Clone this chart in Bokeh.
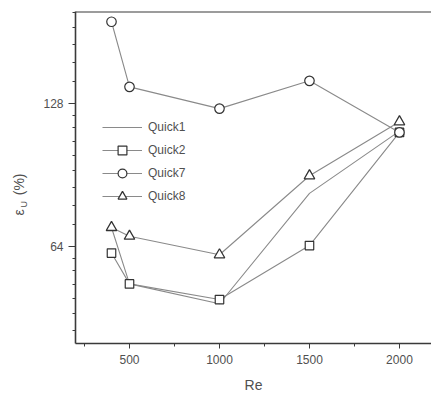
import math
from bokeh.plotting import figure
from bokeh.models import (FixedTicker, Legend, LegendItem, Span, Title,
                          PrintfTickFormatter, Range1d)
from bokeh.embed import file_html
from bokeh.resources import INLINE

# ---- data ----
re_vals = [400, 500, 1000, 1500, 2000]
quick1 = [70.2, 53.4, 48.5, 82.8, 112.0]
quick2 = [62.0, 53.4, 49.5, 64.3, 111.3]
quick7 = [190.3, 138.8, 124.9, 142.9, 111.3]
quick8 = [70.2, 67.3, 61.5, 90.2, 117.2]

x_ticks = [500, 1000, 1500, 2000]
x_minor = [250, 750, 1250, 1750]
y_ticks = [64, 128]
y_minor = [b * (1 + k / 9) for b in (32, 64, 128) for k in range(1, 9)]
y_minor = [v for v in y_minor if 40 < v < 200]

FONT = "Liberation Sans"
AX = "#3a3a3a"
TXT = "#505050"
LINE = "#8a8a8a"

p = figure(width=431, height=402, output_backend="svg", toolbar_location=None,
           y_axis_type="log",
           x_range=Range1d(200, 2178), y_range=Range1d(40, 200),
           min_border_left=75, min_border_right=0, min_border_top=11,
           min_border_bottom=59)
p.outline_line_color = None
p.xgrid.visible = False
p.ygrid.visible = False
p.background_fill_color = "white"
p.border_fill_color = "white"

# axes styling
for ax in (p.xaxis[0], p.yaxis[0]):
    ax.axis_line_color = AX
    ax.axis_line_width = 1.6
    ax.major_tick_line_color = AX
    ax.minor_tick_line_color = AX
    ax.major_tick_in = 0
    ax.minor_tick_in = 0
    ax.major_label_text_font = FONT
    ax.major_label_text_font_size = "12px"
    ax.major_label_text_color = TXT

p.xaxis.ticker = FixedTicker(ticks=x_ticks, minor_ticks=x_minor)
p.xaxis.major_tick_out = 5
p.xaxis.minor_tick_out = 3
p.xaxis.major_label_standoff = 6
p.xaxis.axis_label = "Re"
p.xaxis.axis_label_text_font = FONT
p.xaxis.axis_label_text_font_style = "normal"
p.xaxis.axis_label_text_font_size = "14px"
p.xaxis.axis_label_text_color = TXT
p.xaxis.axis_label_standoff = 10

p.yaxis.ticker = FixedTicker(ticks=y_ticks, minor_ticks=y_minor)
p.yaxis.formatter = PrintfTickFormatter(format="%d")
p.yaxis.major_tick_out = 7
p.yaxis.minor_tick_out = 3
p.yaxis.major_label_standoff = 5

# top frame line
p.add_layout(Span(location=200, dimension="width", line_color=AX, line_width=2))

# series
l1 = p.line(re_vals, quick1, line_color=LINE, line_width=1.1)

l2 = p.line(re_vals, quick2, line_color=LINE, line_width=1.1)
m2 = p.scatter(re_vals, quick2, marker="square", size=8.5, fill_color="white",
               line_color="#333333", line_width=1.2)

l7 = p.line(re_vals, quick7, line_color=LINE, line_width=1.1)
m7 = p.scatter(re_vals, quick7, marker="circle", size=9.5, fill_color="white",
               line_color="#333333", line_width=1.2)

l8 = p.line(re_vals, quick8, line_color=LINE, line_width=1.1)
m8 = p.scatter(re_vals, quick8, marker="triangle", size=10.5, fill_color="white",
               line_color="#333333", line_width=1.3)

legend = Legend(items=[
    LegendItem(label="Quick1", renderers=[l1]),
    LegendItem(label="Quick2", renderers=[l2, m2]),
    LegendItem(label="Quick7", renderers=[l7, m7]),
    LegendItem(label="Quick8", renderers=[l8, m8]),
], location=(27, 136), orientation="vertical",
    glyph_width=40, glyph_height=22, label_height=22, spacing=1,
    padding=0, margin=0, label_standoff=6,
    label_text_font=FONT, label_text_font_size="12px", label_text_color=TXT,
    border_line_color=None, background_fill_alpha=0)
p.add_layout(legend, "center")

# y-axis title: epsilon with subscript U, then (%)
tU = Title(text="U", text_font=FONT, text_font_size="9px",
           text_font_style="normal", text_color=TXT,
           align="left", offset=136, vertical_align="top", standoff=19)
tE = Title(text="ε\u2002\u2002(%)", text_font=FONT, text_font_size="14px",
           text_font_style="normal", text_color=TXT,
           align="left", offset=128, vertical_align="bottom", standoff=-35)
p.add_layout(tU, "left")
p.add_layout(tE, "left")

open("out.html", "w").write(file_html(p, INLINE))
